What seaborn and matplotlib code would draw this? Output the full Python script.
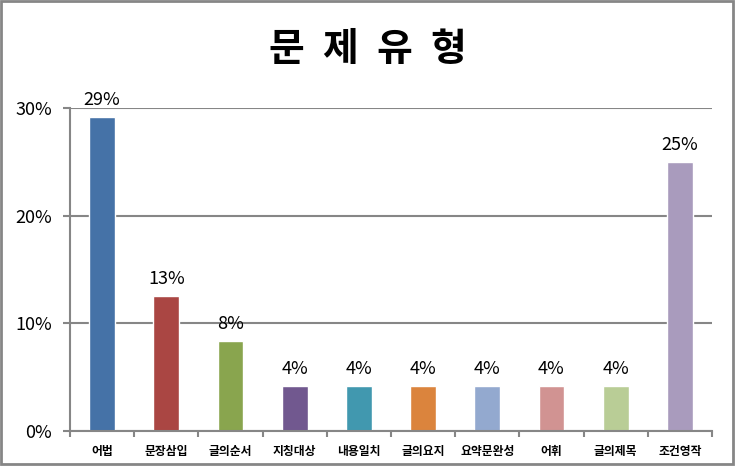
import math
import matplotlib
matplotlib.use("Agg")
import matplotlib.pyplot as plt
from matplotlib.patches import Rectangle
from matplotlib.ticker import FixedLocator, FuncFormatter
import seaborn as sns
import pandas as pd

categories = ["어법", "문장삼입", "글의순서", "지칭대상", "내용일치",
              "글의요지", "요약문완성", "어휘", "글의제목", "조건영작"]
values = [29.17, 12.50, 8.33, 4.17, 4.17, 4.17, 4.17, 4.17, 4.17, 25.00]
colors = ["#4572A7", "#AA4643", "#89A54E", "#71588F", "#4198AF",
          "#DB843D", "#93A9CF", "#D19392", "#B9CD96", "#A99BBD"]
title = "문 제 유 형"
y_ticks = [0, 10, 20, 30]

sns.set_theme(style="white")
plt.rcParams['font.family'] = ['Noto Sans CJK KR', 'DejaVu Sans']

W, H = 752, 466
fig = plt.figure(figsize=(W / 100, H / 100), dpi=100)
ax = fig.add_axes([70 / W, 1 - 431 / H, (712 - 70) / W, (431 - 108) / H])

df = pd.DataFrame({"category": categories, "value": values})
sns.barplot(data=df, x="category", y="value", hue="category",
            palette=colors, legend=False, width=0.4, saturation=1,
            ax=ax)

grid_c = "#868686"
ax.set_ylim(0, 30)
ax.set_xlim(-0.5, len(categories) - 0.5)
ax.yaxis.set_major_locator(FixedLocator(y_ticks))
ax.yaxis.set_major_formatter(FuncFormatter(lambda v, p: f"{int(v)}%"))
ax.grid(axis="y", color=grid_c, linewidth=1.5)
ax.set_axisbelow(True)
for s in ["top", "right"]:
    ax.spines[s].set_visible(False)
for s in ["left", "bottom"]:
    ax.spines[s].set_color(grid_c)
    ax.spines[s].set_linewidth(1.5)

ax.tick_params(axis="y", which="major", left=True, length=5, width=1.5,
               color=grid_c, labelsize=13, pad=8, labelcolor="black")
ax.tick_params(axis="x", which="major", bottom=False, labelsize=8.5,
               pad=4, labelcolor="black")
for lab in ax.get_xticklabels():
    lab.set_fontweight("bold")
ax.xaxis.set_minor_locator(FixedLocator([i - 0.5 for i in range(len(categories) + 1)]))
ax.tick_params(axis="x", which="minor", bottom=True, length=4, width=1.5,
               color=grid_c)
ax.set_xlabel("")
ax.set_ylabel("")

for cont in ax.containers:
    ax.bar_label(cont, labels=[f"{math.floor(v + 0.5)}%" for v in cont.datavalues],
                 padding=6, fontsize=13, color="black")

# Title: wide letter spacing, each character placed in turn
chars = title.split(" ")
step = 54
x0 = 367 - step * (len(chars) - 1) / 2
for i, ch in enumerate(chars):
    fig.text((x0 + i * step) / W, 1 - 50 / H, ch, ha="center", va="center",
             fontsize=28, fontweight="bold", color="black")

fig.patches.append(Rectangle((1 / W, 1 - 464 / H), 732 / W, 463 / H,
                             transform=fig.transFigure, fill=False,
                             edgecolor=grid_c, linewidth=2))

fig.savefig("out.png", dpi=100, facecolor="white")
